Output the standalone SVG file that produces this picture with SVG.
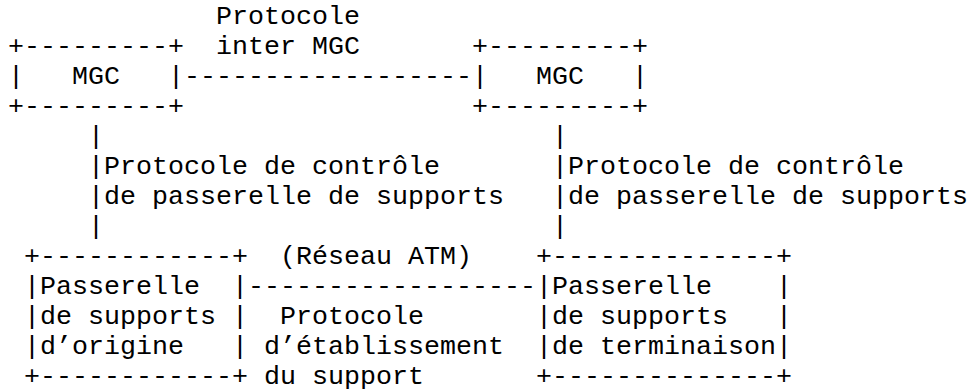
<svg xmlns="http://www.w3.org/2000/svg" width="971" height="391" viewBox="0 0 971 391">
<style>
text{font-family:"Liberation Mono","Courier New",monospace;font-size:26.67px;fill:#000;white-space:pre}
</style>
<rect width="971" height="391" fill="#fff"/>
<g id="mgc-left">
<text x="8" y="54.04">+---------+</text>
<text x="8" y="84.08">|   MGC   |</text>
<text x="8" y="114.12">+---------+</text>
</g>
<g id="mgc-right">
<text x="472" y="54.04">+---------+</text>
<text x="472" y="84.08">|   MGC   |</text>
<text x="472" y="114.12">+---------+</text>
</g>
<g id="gw-origine">
<text x="24" y="264.32">+------------+</text>
<text x="24" y="294.36">|Passerelle  |</text>
<text x="24" y="324.4">|de supports |</text>
<text x="24" y="354.44">|d’origine   |</text>
<text x="24" y="384.48">+------------+</text>
</g>
<g id="gw-terminaison">
<text x="536" y="264.32">+--------------+</text>
<text x="536" y="294.36">|Passerelle    |</text>
<text x="536" y="324.4">|de supports   |</text>
<text x="536" y="354.44">|de terminaison|</text>
<text x="536" y="384.48">+--------------+</text>
</g>
<g id="connectors">
<text x="184" y="84.08">------------------</text>
<text x="88" y="144.16">|</text>
<text x="88" y="174.2">|</text>
<text x="88" y="204.24">|</text>
<text x="88" y="234.28">|</text>
<text x="552" y="144.16">|</text>
<text x="552" y="174.2">|</text>
<text x="552" y="204.24">|</text>
<text x="552" y="234.28">|</text>
<text x="248" y="294.36">------------------</text>
</g>
<g id="labels">
<text x="216" y="24">Protocole</text>
<text x="216" y="54.04">inter MGC</text>
<text x="104" y="174.2">Protocole de contrôle</text>
<text x="104" y="204.24">de passerelle de supports</text>
<text x="568" y="174.2">Protocole de contrôle</text>
<text x="568" y="204.24">de passerelle de supports</text>
<text x="280" y="264.32">(Réseau ATM)</text>
<text x="280" y="324.4">Protocole</text>
<text x="264" y="354.44">d’établissement</text>
<text x="264" y="384.48">du support</text>
</g>
</svg>
